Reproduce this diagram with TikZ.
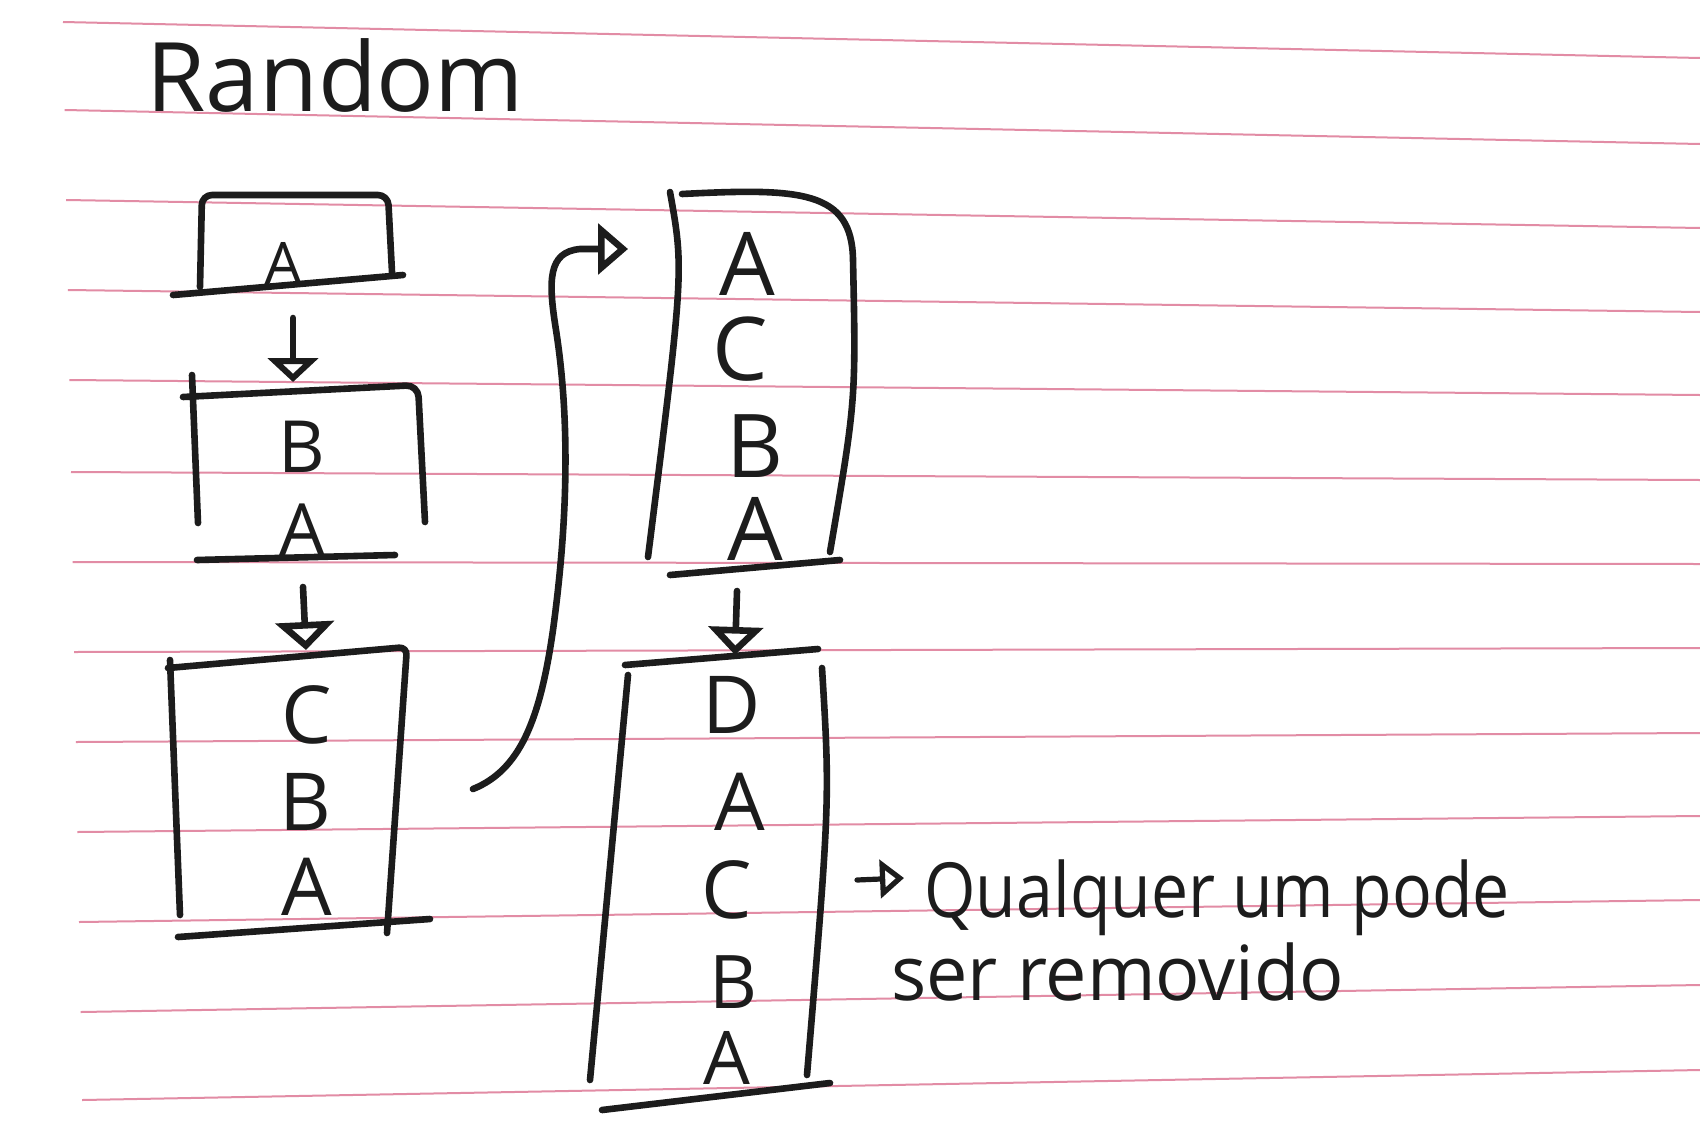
\documentclass[tikz,border=0pt]{standalone}
\usepackage{fontspec}
\setmainfont{Open Sans}
\usepackage{graphicx}
\usetikzlibrary{arrows.meta}
\definecolor{rulepink}{RGB}{226,140,165}
\definecolor{ink}{RGB}{28,28,28}
\begin{document}
\begin{tikzpicture}[x=0.5pt,y=-0.5pt,
  pen/.style={draw=ink,line width=3.3pt,line cap=round,line join=round},
  ruleline/.style={draw=rulepink,line width=1pt},
  ltr/.style={anchor=base,inner sep=0pt,text=ink},
  fA/.style={font=\fontsize{30}{30}\selectfont},
  fB/.style={font=\fontsize{36}{36}\selectfont},
  fC/.style={font=\fontsize{40}{40}\selectfont},
  fE/.style={font=\fontsize{37}{37}\selectfont},
  fD/.style={font=\fontsize{44}{44}\selectfont},
  downarrow/.style={pen,-{Triangle[open,length=12pt,width=25pt]}},
]
\useasboundingbox (0,0) rectangle (1700,1129);
\fill[white] (0,0) rectangle (1700,1129);
% ruled paper
\foreach \l/\r [count=\i] in {22/58,110/144,200/228,290/312,380/395,472/480,562/564,652/648,742/733,832/816,922/900,1012/985,1100/1070}
  { \draw[ruleline] ({63+(\i-1)*1.6},\l) -- (1700,\r); }

% title
\node[anchor=base west,inner sep=0pt,text=ink,font=\fontsize{48}{48}\selectfont] (title) at (146,112) {Random};

% stack 1
\draw[pen,rounded corners=5pt] (200,287) -- (202,195) -- (388,195) -- (392,272);
\draw[pen] (173,295) -- (403,275);
\node[ltr,fA] (s1a) at (283,285) {A};

% stack 2
\draw[pen] (192,375) -- (198,523);
\draw[pen,rounded corners=6pt] (183,397) -- (418,385) -- (425,522);
\draw[pen] (197,560) -- (395,555);
\node[ltr,fB] (s2b) at (302,472) {B};
\node[ltr,fB] (s2a) at (302,555) {A};

% stack 3
\draw[pen] (170,660) -- (180,915);
\draw[pen,rounded corners=4pt] (168,668) -- (407,647) -- (387,933);
\draw[pen] (178,937) -- (430,919);
\node[ltr,fC] (s3c) at (307,743) {C};
\node[ltr,fC] (s3b) at (305,830) {B};
\node[ltr,fC] (s3a) at (307,915) {A};

% stack 4
\draw[pen] (670,192) .. controls (684,270) .. (648,557);
\draw[pen] (682,194) .. controls (800,188) and (852,190) .. (853,260) .. controls (856,400) .. (830,552);
\draw[pen] (670,575) -- (840,560);
\node[ltr,fD] (s4a1) at (747,295) {A};
\node[ltr,fD] (s4c) at (740,380) {C};
\node[ltr,fD] (s4b) at (755,477) {B};
\node[ltr,fD] (s4a2) at (755,560) {A};

% stack 5
\draw[pen] (625,665) -- (818,649);
\draw[pen] (628,675) -- (590,1080);
\draw[pen] (822,668) .. controls (830,800) .. (807,1075);
\draw[pen] (602,1110) -- (830,1083);
\node[ltr,fC] (s5d) at (732,733) {D};
\node[ltr,fC] (s5a1) at (740,830) {A};
\node[ltr,fC] (s5c) at (727,918) {C};
\node[ltr,fE] (s5b) at (733,1008) {B};
\node[ltr,fE] (s5a2) at (727,1084) {A};

% connectors
\coordinate (s1out) at (293,318);
\coordinate (s2in) at (293,382);
\coordinate (s2out) at (303,587);
\coordinate (s3in) at (306,650);
\coordinate (s3out) at (473,789);
\coordinate (s4in) at (628,249);
\coordinate (s4out) at (737,591);
\coordinate (s5in) at (735,655);
\draw[downarrow] (s1out) -- (s2in);
\draw[downarrow,-{Triangle[open,length=14pt,width=29pt]}] (s2out) -- (s3in);
\draw[downarrow,-{Triangle[open,length=14pt,width=27pt]}] (s4out) -- (s5in);
\draw[pen,-{Triangle[open,length=15pt,width=25pt]}] (s3out)
  .. controls (520,770) and (540,720) .. (553,630)
  .. controls (568,520) and (570,420) .. (556,330)
  .. controls (548,280) and (548,252) .. (580,249) -- (s4in);

% note
\coordinate (n0) at (857,880);
\coordinate (n1) at (904,878);
\draw[pen,line width=2.6pt,-{Triangle[open,length=12pt,width=19pt]}] (n0) -- (n1);
\node[anchor=base west,inner sep=0pt,text=ink,font=\fontsize{38}{38}\selectfont] (note1) at (924,917) {\scalebox{0.87}[1]{Qualquer um pode}};
\node[anchor=base west,inner sep=0pt,text=ink,font=\fontsize{38}{38}\selectfont] (note2) at (891,1000) {\scalebox{0.97}[1]{ser removido}};
\end{tikzpicture}
\end{document}
